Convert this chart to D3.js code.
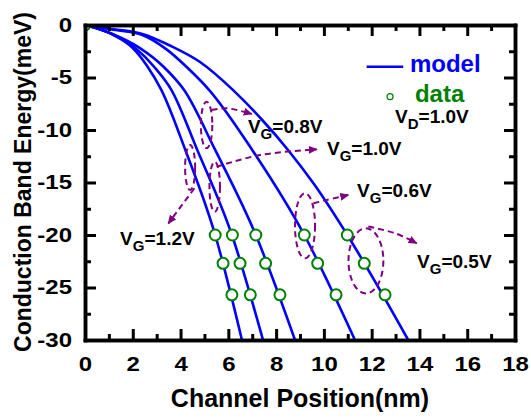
<!DOCTYPE html>
<html><head><meta charset="utf-8">
<script src="https://cdn.jsdelivr.net/npm/d3@7"></script>
<style>
body{margin:0;background:#fff}
svg{display:block}
text{font-family:"Liberation Sans",Arial,sans-serif;font-weight:bold}
</style>
</head><body>
<svg id="chart" width="531" height="419"></svg>
<script>
// ---------- data ----------
const xTicks = [0,2,4,6,8,10,12,14,16,18];
const xMinorTicks = [1,3,5,7,9,11,13,15,17];
const yTicks = [0,-5,-10,-15,-20,-25,-30];
const yMinorTicks = [-2.5,-7.5,-12.5,-17.5,-22.5,-27.5];

// model curves (Channel Position nm, Conduction Band Energy meV)
const modelX_VG12 = [0,1.2,2.0,2.6,3.2,4.2,5.45,6.57];
const modelE_VG12 = [0,-0.95,-2.2,-3.9,-6.2,-11.9,-20,-30];
const modelX_VG10 = [0,1.2,2.1,2.9,3.62,4.7,6.15,7.45];
const modelE_VG10 = [0,-0.95,-2.2,-4.0,-6.2,-11.9,-20,-30];
const modelX_VG08 = [0,1.2,2.3,3.3,4.15,5.45,7.15,8.79];
const modelE_VG08 = [0,-0.9,-2.2,-4.0,-6.2,-11.9,-20,-30];
const modelX_VG06 = [0,1.2,2.4,3.4,4.3,5.2,7.0,9.18,11.3];
const modelE_VG06 = [0,-0.45,-0.95,-2.3,-4.1,-6.2,-11.9,-20,-30];
const modelX_VG05 = [0,1.2,2.4,3.6,4.8,6.2,7.4,8.5,9.6,10.98,13.53];
const modelE_VG05 = [0,-0.4,-0.85,-2.0,-3.5,-6.2,-9.0,-11.9,-15.2,-20,-30];

// data points
const dataE = [-20,-22.7,-25.7];
const dataX_VG12 = [5.45,5.78,6.15];
const dataX_VG10 = [6.17,6.49,6.92];
const dataX_VG08 = [7.15,7.56,8.16];
const dataX_VG06 = [9.18,9.74,10.51];
const dataX_VG05 = [10.98,11.69,12.56];
const originPoint = [0,0];

// annotation labels
const labelMain = ["V","V","V","V","V","V"];
const labelSub = ["G","G","G","G","G","D"];
const labelRest = ["=0.8V","=1.0V","=0.6V","=0.5V","=1.2V","=1.0V"];
const labelX = [6.82,10.13,11.39,13.90,1.47,12.98];
const labelE = [-10.29,-12.38,-16.38,-23.14,-20.95,-9.33];

// dashed loops: centre x, centre E, half-width (nm), half-height (meV)
const loopCX = [5.09,4.40,5.43,9.21,11.76];
const loopCE = [-9.52,-13.57,-15.4,-19.12,-22.46];
const loopRX = [0.24,0.21,0.22,0.42,0.73];
const loopRE = [2.2,2.14,2.38,3.1,3.1];

// dashed arrows
const arrow08 = [[5.30,-8.1],[5.93,-7.93],[6.98,-8.48]];
const arrow12 = [[4.58,-15.55],[3.49,-18.89]];
const arrow10 = [[5.51,-13.5],[7.33,-12.38],[9.70,-11.84]];
const arrow06 = [[9.56,-16.98],[10.12,-16.67],[11.02,-16.19]];
const arrow05 = [[11.86,-19.2],[13.0,-19.85],[13.88,-20.79]];

// legend
const legendNames = ["model","data"];

// ---------- drawing ----------
const BLUE = "#0000ff", GREEN = "#008000", PURPLE = "#800080";
const svg = d3.select("#chart");
const x = d3.scaleLinear().domain([0,18]).range([85,515]);
const y = d3.scaleLinear().domain([0,-30]).range([25,340]);

const defs = svg.append("defs");
defs.append("marker").attr("id","ah").attr("markerUnits","userSpaceOnUse")
  .attr("markerWidth",10).attr("markerHeight",8).attr("refX",8).attr("refY",4)
  .attr("orient","auto")
  .append("path").attr("d","M0,0 L9,4 L0,8 Z").attr("fill",PURPLE);
defs.append("clipPath").attr("id","plot").append("rect")
  .attr("x",x(0)).attr("y",y(0)).attr("width",x(18)-x(0)).attr("height",y(-30)-y(0));

const plot = svg.append("g").attr("clip-path","url(#plot)");

// data circles (drawn under the model lines)
const pts = [originPoint];
[dataX_VG12,dataX_VG10,dataX_VG08,dataX_VG06,dataX_VG05].forEach(arr=>arr.forEach((v,i)=>pts.push([v,dataE[i]])));
const circG = plot.append("g");

const line = d3.line().x(d=>x(d[0])).y(d=>y(d[1])).curve(d3.curveMonotoneX);
const models = [
  [modelX_VG12, modelE_VG12],[modelX_VG10, modelE_VG10],[modelX_VG08, modelE_VG08],
  [modelX_VG06, modelE_VG06],[modelX_VG05, modelE_VG05]
];
plot.append("g").selectAll("path").data(models).join("path")
  .attr("d", m => line(m[0].map((v,i)=>[v,m[1][i]])))
  .attr("fill","none").attr("stroke",BLUE).attr("stroke-width",2.6);

plot.append("g").selectAll("circle").data(pts).join("circle")
  .attr("cx",d=>x(d[0])).attr("cy",d=>y(d[1])).attr("r",5.5)
  .attr("fill","#fff").attr("stroke",GREEN).attr("stroke-width",2);

// annotations
const ann = svg.append("g").attr("fill","none").attr("stroke",PURPLE)
  .attr("stroke-width",2).attr("stroke-dasharray","6,4");
ann.selectAll("ellipse").data(loopCX).join("ellipse")
  .attr("cx",(d)=>x(d)).attr("cy",(d,i)=>y(loopCE[i]))
  .attr("rx",(d,i)=>x(d+loopRX[i])-x(d)).attr("ry",(d,i)=>y(loopCE[i]-loopRE[i])-y(loopCE[i]));
const aline = d3.line().x(d=>x(d[0])).y(d=>y(d[1])).curve(d3.curveCatmullRom);
ann.selectAll("path").data([arrow08,arrow12,arrow10,arrow06,arrow05]).join("path")
  .attr("d",aline).attr("marker-end","url(#ah)");

// labels
const lab = svg.append("g").attr("fill","#000");
labelMain.forEach((m,i)=>{
  const t = lab.append("text").attr("x",x(labelX[i])).attr("y",y(labelE[i])).attr("font-size",19);
  t.append("tspan").text(m);
  t.append("tspan").attr("font-size",15).attr("dy",6).text(labelSub[i]);
  t.append("tspan").attr("dy",-6).text(labelRest[i]);
});

// legend
svg.append("line").attr("x1",x(11.79)).attr("x2",x(13.32)).attr("y1",y(-3.97)).attr("y2",y(-3.97))
  .attr("stroke",BLUE).attr("stroke-width",2.6);
svg.append("text").attr("x",x(13.6)).attr("y",y(-4.5)).attr("font-size",24).attr("fill",BLUE).text(legendNames[0]);
svg.append("circle").attr("cx",x(12.77)).attr("cy",y(-6.83)).attr("r",3)
  .attr("fill","#fff").attr("stroke",GREEN).attr("stroke-width",1.2);
svg.append("text").attr("x",x(13.81)).attr("y",y(-7.35)).attr("font-size",24).attr("fill",GREEN).text(legendNames[1]);

// axes
function styleAxis(g){
  g.select(".domain").attr("stroke","#000").attr("stroke-width",3.5).attr("stroke-linecap","square");
  g.selectAll(".tick line").attr("stroke","#000").attr("stroke-width",3);
}
const gB = svg.append("g").attr("transform",`translate(0,${y(-30)})`)
  .call(d3.axisBottom(x).tickValues(xTicks).tickSize(-11).tickSizeOuter(0).tickPadding(17).tickFormat(d3.format("d")));
gB.selectAll("text").attr("font-size",20).attr("fill","#000").attr("font-family",null).attr("transform","scale(1.2,1)");
styleAxis(gB);
const gBm = svg.append("g").attr("transform",`translate(0,${y(-30)})`)
  .call(d3.axisBottom(x).tickValues(xMinorTicks).tickSize(-6).tickSizeOuter(0).tickFormat(""));
styleAxis(gBm);
const gT = svg.append("g").attr("transform",`translate(0,${y(0)})`)
  .call(d3.axisTop(x).tickValues(xTicks).tickSize(-11).tickSizeOuter(0).tickFormat(""));
styleAxis(gT);
const gTm = svg.append("g").attr("transform",`translate(0,${y(0)})`)
  .call(d3.axisTop(x).tickValues(xMinorTicks).tickSize(-6).tickSizeOuter(0).tickFormat(""));
styleAxis(gTm);
const gL = svg.append("g").attr("transform",`translate(${x(0)},0)`)
  .call(d3.axisLeft(y).tickValues(yTicks).tickSize(-11).tickSizeOuter(0).tickPadding(10.8).tickFormat(d3.format("d")));
gL.selectAll("text").attr("font-size",20).attr("fill","#000").attr("font-family",null).attr("transform","scale(1.2,1)");
styleAxis(gL);
const gLm = svg.append("g").attr("transform",`translate(${x(0)},0)`)
  .call(d3.axisLeft(y).tickValues(yMinorTicks).tickSize(-6).tickSizeOuter(0).tickFormat(""));
styleAxis(gLm);
const gR = svg.append("g").attr("transform",`translate(${x(18)},0)`)
  .call(d3.axisRight(y).tickValues(yTicks).tickSize(-11).tickSizeOuter(0).tickFormat(""));
styleAxis(gR);
const gRm = svg.append("g").attr("transform",`translate(${x(18)},0)`)
  .call(d3.axisRight(y).tickValues(yMinorTicks).tickSize(-6).tickSizeOuter(0).tickFormat(""));
styleAxis(gRm);
svg.selectAll(".tick text").attr("font-weight","bold");
gL.selectAll("text").text(d=>d3.format("d")(d).replace("−","-"));

// titles
svg.append("text").attr("x",300).attr("y",407).attr("text-anchor","middle").attr("font-size",25).text("Channel Position(nm)");
svg.append("text").attr("transform","translate(31,182) rotate(-90)").attr("text-anchor","middle").attr("font-size",23).text("Conduction Band Energy(meV)");
</script>
</body></html>
